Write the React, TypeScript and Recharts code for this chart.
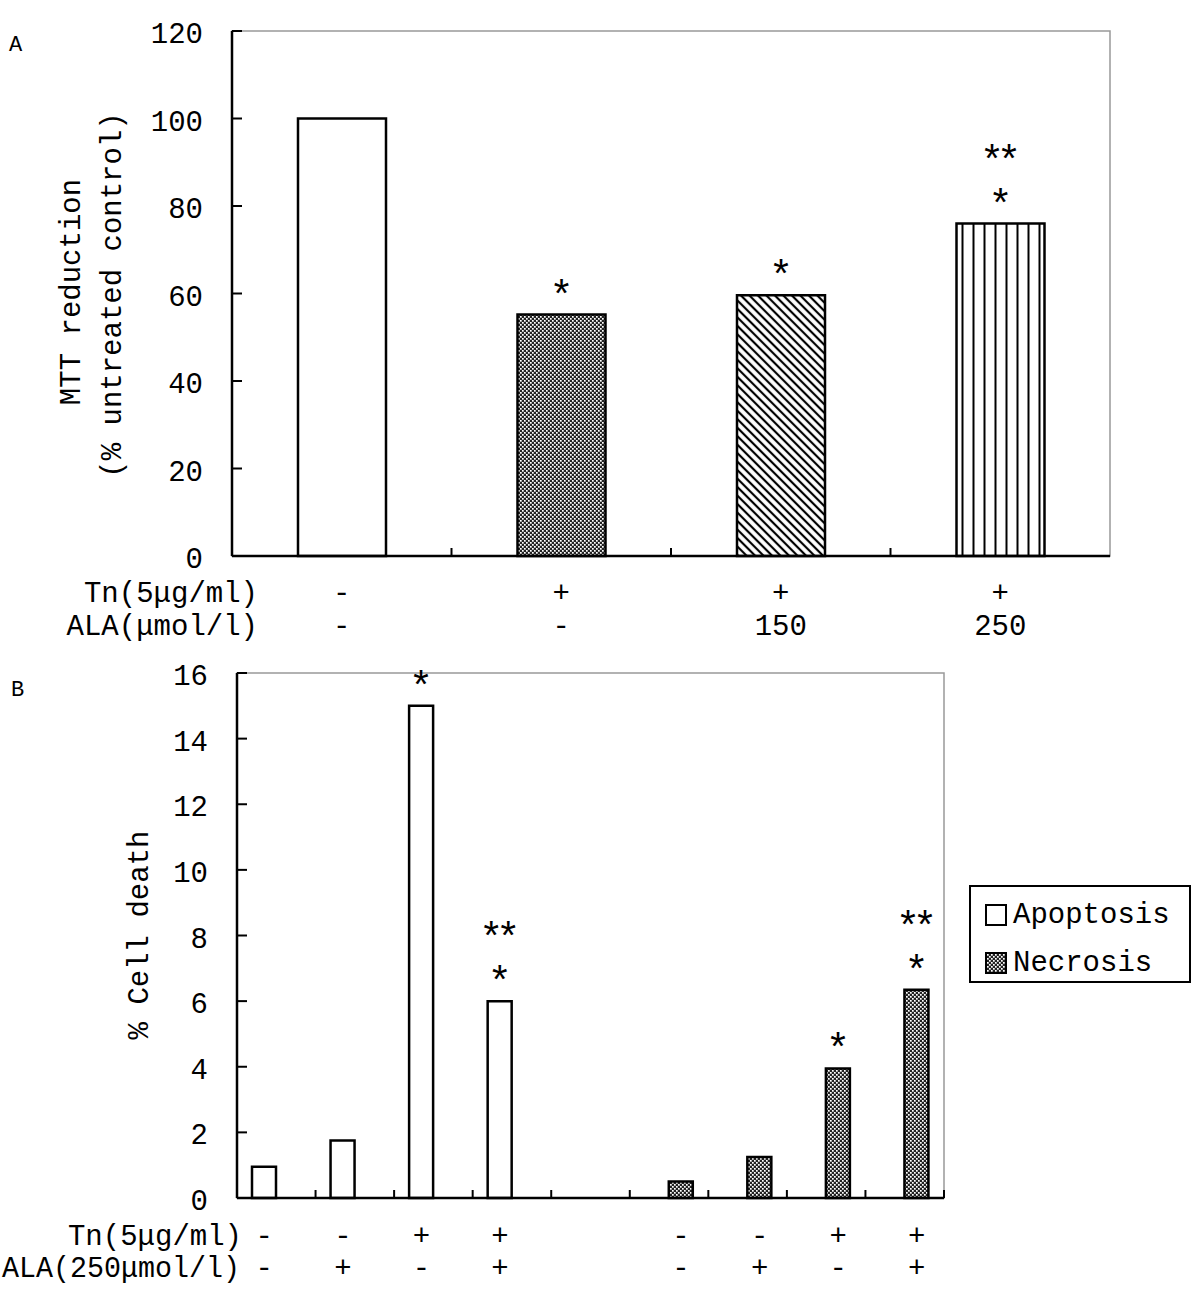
import React from "react";
import { BarChart, Bar, XAxis, YAxis, Cell, LabelList, ReferenceArea, Legend, Label } from "recharts";

const FONT = "'Liberation Mono', 'DejaVu Sans Mono', monospace";

// ---- panel A : MTT reduction ----
const groupsA = ["ctrl", "tn", "tnAla150", "tnAla250"];
const mttValues = [100, 55.2, 59.6, 76];
const tnRowA = ["-", "+", "+", "+"];
const alaRowA = ["-", "-", "150", "250"];
const sigA1 = ["", "*", "*", "*"];
const sigA2 = ["", "", "", "**"];
const yTicksA = [0, 20, 40, 60, 80, 100, 120];

// ---- panel B : cell death ----
const groupsB = ["a1", "a2", "a3", "a4", "gap", "n1", "n2", "n3", "n4"];
const apoptosis = [0.95, 1.75, 15, 6, null, null, null, null, null];
const necrosis = [null, null, null, null, null, 0.5, 1.25, 3.95, 6.35];
const tnRowB = ["-", "-", "+", "+", "", "-", "-", "+", "+"];
const alaRowB = ["-", "+", "-", "+", "", "-", "+", "-", "+"];
const sigApo1 = ["", "", "*", "*", "", "", "", "", ""];
const sigApo2 = ["", "", "", "**", "", "", "", "", ""];
const sigNec1 = ["", "", "", "", "", "", "", "*", "*"];
const sigNec2 = ["", "", "", "", "", "", "", "", "**"];
const yTicksB = [0, 2, 4, 6, 8, 10, 12, 14, 16];

const barFillsA = ["#fff", "url(#checkA)", "url(#diagA)", "url(#vertA)"];

const dataA = groupsA.map((g, i) => ({
  group: g,
  mtt: mttValues[i],
  s1: sigA1[i],
  s2: sigA2[i],
}));

const dataB = groupsB.map((g, i) => ({
  group: g,
  apoptosis: apoptosis[i],
  necrosis: necrosis[i],
  a1: sigApo1[i],
  a2: sigApo2[i],
  n1: sigNec1[i],
  n2: sigNec2[i],
}));

const BAND_A = (1110 - 232) / groupsA.length;
const BAND_B = (944 - 237) / groupsB.length;

const txt = { fontFamily: FONT, fontSize: 29, fill: "#000" };

const YTick = (props: any) => {
  const { x, y, payload } = props;
  return (
    <g>
      <line x1={x} x2={x + 10} y1={y} y2={y} stroke="#000" strokeWidth={2} />
      <text x={x - 29} y={y + 12} textAnchor="end" {...txt}>
        {payload.value}
      </text>
    </g>
  );
};

const XTickA = (props: any) => {
  const { x, y, index } = props;
  return (
    <g>
      {index < groupsA.length - 1 && (
        <line x1={x + BAND_A / 2} x2={x + BAND_A / 2} y1={y} y2={y - 8} stroke="#000" strokeWidth={2} />
      )}
      <text x={x} y={y + 46} textAnchor="middle" {...txt}>{tnRowA[index]}</text>
      <text x={x} y={y + 79} textAnchor="middle" {...txt}>{alaRowA[index]}</text>
      {index === 0 && (
        <>
          <text x={258} y={y + 46} textAnchor="end" {...txt}>Tn(5μg/ml)</text>
          <text x={258} y={y + 79} textAnchor="end" {...txt}>ALA(μmol/l)</text>
        </>
      )}
    </g>
  );
};

const XTickB = (props: any) => {
  const { x, y, index } = props;
  const shift = apoptosis[index] != null ? -12 : 12;
  return (
    <g>
      <line x1={x + BAND_B / 2} x2={x + BAND_B / 2} y1={y} y2={y - 8} stroke="#000" strokeWidth={2} />
      <text x={x + shift} y={y + 47} textAnchor="middle" {...txt}>{tnRowB[index]}</text>
      <text x={x + shift} y={y + 79} textAnchor="middle" {...txt}>{alaRowB[index]}</text>
      {index === 0 && (
        <>
          <text x={242} y={y + 47} textAnchor="end" {...txt}>Tn(5μg/ml)</text>
          <text
            x={2}
            y={y + 79}
            textLength={238}
            lengthAdjust="spacingAndGlyphs"
            {...txt}
          >
            ALA(250μmol/l)
          </text>
        </>
      )}
    </g>
  );
};

const star = (lift: number) => (props: any) => {
  const { x, y, width, value } = props;
  if (!value) return null;
  const ls = value.length > 1 ? -7 : 0;
  return (
    <text
      x={x + width / 2 + ls / 2}
      y={y - lift}
      textAnchor="middle"
      fontFamily={FONT}
      fontSize={40}
      letterSpacing={ls}
      fill="#000"
    >
      {value}
    </text>
  );
};

const YLabelA = () => (
  <g>
    <text x={72} y={292} transform="rotate(-90, 72, 292)" textAnchor="middle" dominantBaseline="central" {...txt}>
      MTT reduction
    </text>
    <text x={113} y={295} transform="rotate(-90, 113, 295)" textAnchor="middle" dominantBaseline="central" {...txt}>
      (% untreated control)
    </text>
  </g>
);

const YLabelB = () => (
  <text x={140} y={285} transform="rotate(-90, 140, 285)" textAnchor="middle" dominantBaseline="central" {...txt}>
    % Cell death
  </text>
);

const LegendB = (props: any) => {
  const { payload } = props;
  return (
    <div
      style={{
        border: "2px solid #000",
        width: 222,
        height: 98,
        boxSizing: "border-box",
        fontFamily: FONT,
        fontSize: 29,
        paddingTop: 4,
        background: "#fff",
      }}
    >
      {(payload || []).map((p: any) => (
        <div key={p.value} style={{ display: "flex", alignItems: "center", height: 48, paddingLeft: 14 }}>
          <svg width={22} height={22} style={{ marginRight: 6 }}>
            <rect
              x={1}
              y={1}
              width={20}
              height={20}
              fill={p.dataKey === "necrosis" ? "url(#checkB)" : "#fff"}
              stroke="#000"
              strokeWidth={2}
            />
          </svg>
          <span>{p.value}</span>
        </div>
      ))}
    </div>
  );
};

export default function App() {
  return (
    <div style={{ position: "absolute", left: 0, top: 0, width: 1200, height: 1294, background: "#fff" }}>
      <div style={{ position: "absolute", left: 9, top: 33, fontFamily: FONT, fontSize: 22 }}>A</div>
      <div style={{ position: "absolute", left: 11, top: 678, fontFamily: FONT, fontSize: 22 }}>B</div>

      <div style={{ position: "absolute", left: 0, top: 0 }}>
        <BarChart width={1200} height={650} data={dataA} margin={{ top: 31, right: 90, left: 0, bottom: 0 }}>
          <defs>
            <pattern id="checkA" width="4" height="4" patternUnits="userSpaceOnUse">
              <rect width="4" height="4" fill="#222" />
              <rect x="0" y="0" width="1.7" height="1.7" fill="#fff" />
              <rect x="2" y="2" width="1.7" height="1.7" fill="#fff" />
            </pattern>
            <pattern id="diagA" width="6" height="6" patternUnits="userSpaceOnUse" patternTransform="rotate(-45)">
              <rect width="6" height="6" fill="#fff" />
              <line x1="3" y1="0" x2="3" y2="6" stroke="#000" strokeWidth="2.2" />
            </pattern>
            <pattern id="vertA" width="11" height="11" patternUnits="userSpaceOnUse">
              <rect width="11" height="11" fill="#fff" />
              <line x1="5.5" y1="0" x2="5.5" y2="11" stroke="#000" strokeWidth="2" />
            </pattern>
          </defs>
          <ReferenceArea y1={0} y2={120} fill="none" stroke="#999" strokeWidth={1.5} />
          <XAxis
            dataKey="group"
            height={94}
            interval={0}
            tickSize={0}
            tickMargin={0}
            tickLine={false}
            axisLine={{ stroke: "#000", strokeWidth: 2.5 }}
            tick={<XTickA />}
          />
          <YAxis
            width={232}
            domain={[0, 120]}
            ticks={yTicksA}
            tickSize={0}
            tickMargin={0}
            tickLine={false}
            axisLine={{ stroke: "#000", strokeWidth: 2.5 }}
            tick={<YTick />}
          >
            <Label content={<YLabelA />} />
          </YAxis>
          <Bar dataKey="mtt" barSize={88} stroke="#000" strokeWidth={2.5} isAnimationActive={false}>
            {dataA.map((d, i) => (
              <Cell key={d.group} fill={barFillsA[i]} />
            ))}
            <LabelList dataKey="s1" content={star(6)} />
            <LabelList dataKey="s2" content={star(50)} />
          </Bar>
        </BarChart>
      </div>

      <div style={{ position: "absolute", left: 0, top: 650 }}>
        <BarChart
          width={1200}
          height={644}
          data={dataB}
          margin={{ top: 23, right: 256, left: 0, bottom: 0 }}
          barGap={0}
        >
          <defs>
            <pattern id="checkB" width="4" height="4" patternUnits="userSpaceOnUse">
              <rect width="4" height="4" fill="#222" />
              <rect x="0" y="0" width="1.7" height="1.7" fill="#fff" />
              <rect x="2" y="2" width="1.7" height="1.7" fill="#fff" />
            </pattern>
          </defs>
          <ReferenceArea y1={0} y2={16} fill="none" stroke="#999" strokeWidth={1.5} />
          <XAxis
            dataKey="group"
            height={96}
            interval={0}
            tickSize={0}
            tickMargin={0}
            tickLine={false}
            axisLine={{ stroke: "#000", strokeWidth: 2.5 }}
            tick={<XTickB />}
          />
          <YAxis
            width={237}
            domain={[0, 16]}
            ticks={yTicksB}
            tickSize={0}
            tickMargin={0}
            tickLine={false}
            axisLine={{ stroke: "#000", strokeWidth: 2.5 }}
            tick={<YTick />}
          >
            <Label content={<YLabelB />} />
          </YAxis>
          <Legend
            layout="horizontal"
            verticalAlign="middle"
            align="center"
            content={<LegendB />}
            wrapperStyle={{ position: "absolute", left: 969, top: 235, width: 222, height: 98 }}
          />
          <Bar dataKey="apoptosis" name="Apoptosis" barSize={24} fill="#fff" stroke="#000" strokeWidth={2.5} isAnimationActive={false}>
            <LabelList dataKey="a1" content={star(6)} />
            <LabelList dataKey="a2" content={star(50)} />
          </Bar>
          <Bar dataKey="necrosis" name="Necrosis" barSize={24} fill="url(#checkB)" stroke="#000" strokeWidth={2.5} isAnimationActive={false}>
            <LabelList dataKey="n1" content={star(6)} />
            <LabelList dataKey="n2" content={star(50)} />
          </Bar>
        </BarChart>
      </div>
    </div>
  );
}
